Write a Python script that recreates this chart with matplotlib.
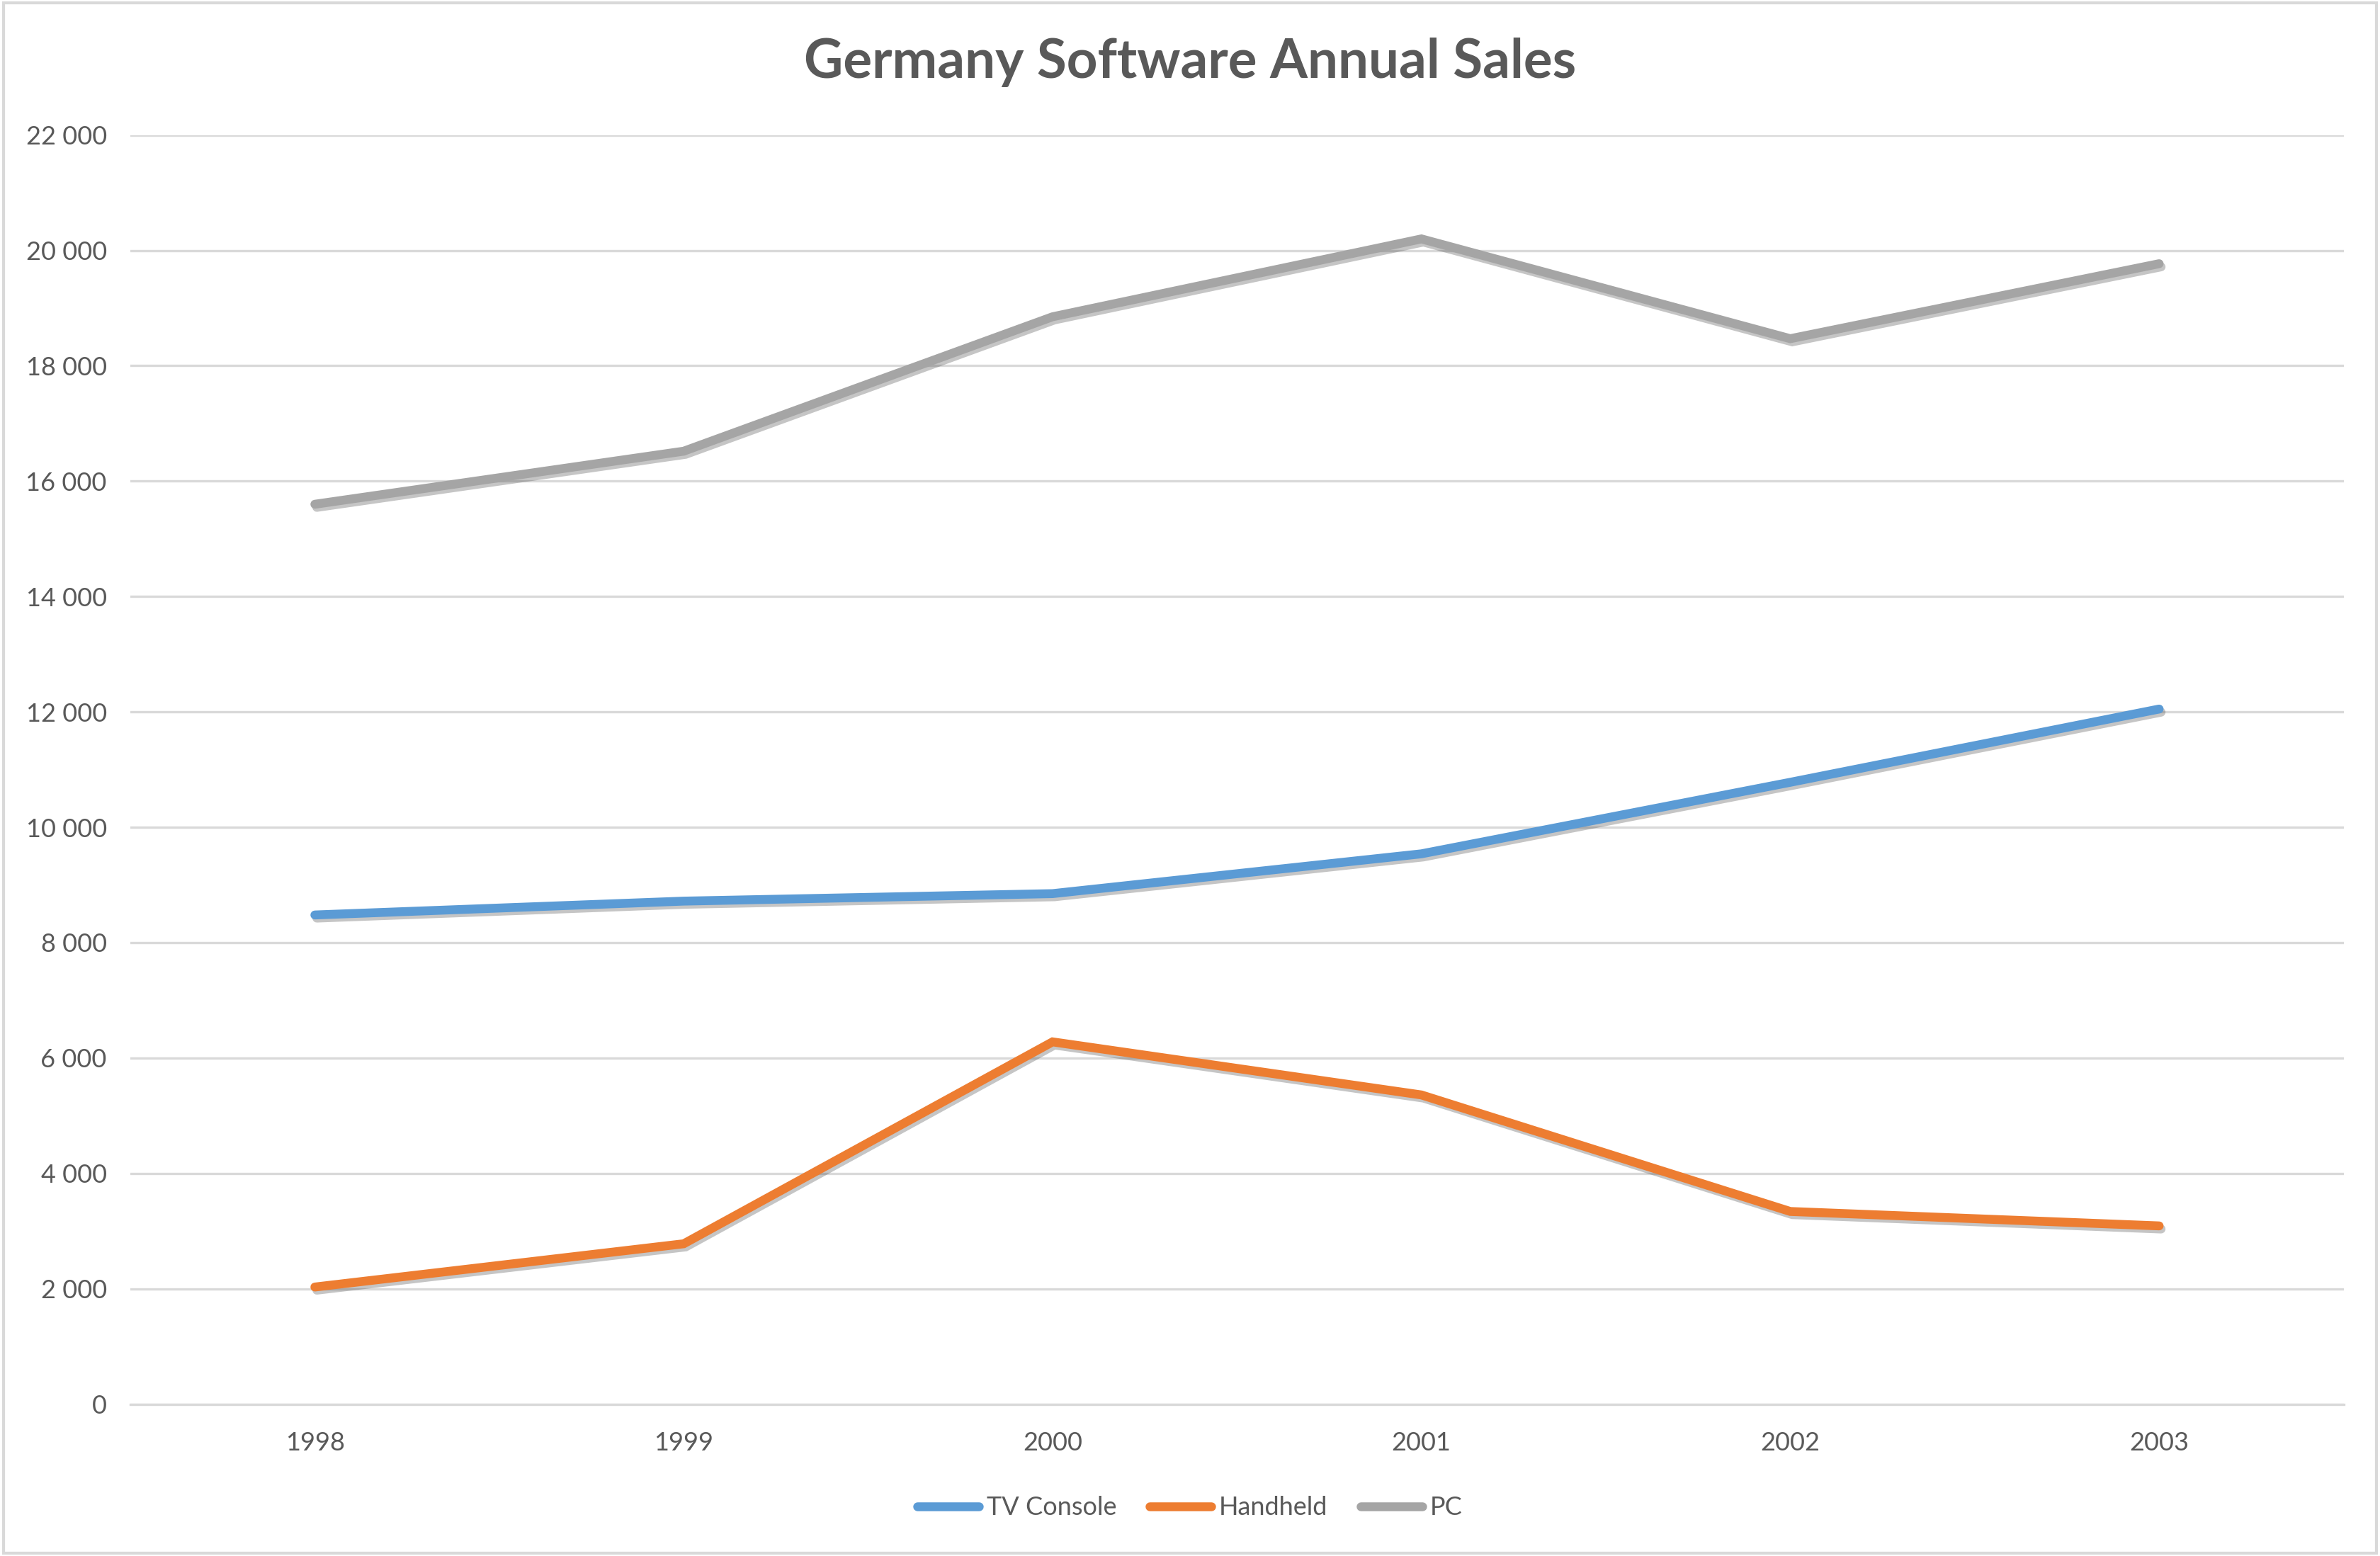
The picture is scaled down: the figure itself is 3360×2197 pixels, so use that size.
import matplotlib.pyplot as plt
import matplotlib.patheffects as pe
from matplotlib.ticker import FuncFormatter

years = ["1998", "1999", "2000", "2001", "2002", "2003"]
tv_console = [8480, 8720, 8850, 9540, 10780, 12050]
handheld = [2030, 2780, 6280, 5360, 3340, 3090]
pc = [15600, 16520, 18850, 20200, 18470, 19770]

series_names = ["TV Console", "Handheld", "PC"]
series_colors = ["#5B9BD5", "#ED7D31", "#A5A5A5"]
TEXT = "#595959"

plt.rcParams['font.family'] = ['Lato', 'DejaVu Sans']

fig = plt.figure(figsize=(16.8, 10.985), dpi=200)
ax = fig.add_axes([0.0548, 0.0976, 0.9299, 0.8156])

shadow = [pe.SimpleLineShadow(offset=(1.0, -1.6), shadow_color='#404040', alpha=0.3),
          pe.Normal()]
x = list(range(len(years)))
for vals, name, col in zip([tv_console, handheld, pc], series_names, series_colors):
    ax.plot(x, vals, color=col, lw=4.5, solid_capstyle='round',
            solid_joinstyle='miter', label=name, path_effects=shadow)

ax.set_xlim(-0.5, len(years) - 0.5)
ax.set_ylim(0, 22000)
ax.set_yticks(range(0, 22001, 2000))
ax.yaxis.set_major_formatter(FuncFormatter(lambda v, p: f"{int(v):,}".replace(",", " ")))
ax.set_xticks(x)
ax.set_xticklabels(years)
ax.grid(axis='y', color='#D9D9D9', lw=1.2)
ax.set_axisbelow(True)
for s in ['top', 'right', 'left']:
    ax.spines[s].set_visible(False)
ax.spines['bottom'].set_color('#D9D9D9')
ax.spines['bottom'].set_linewidth(1.2)
ax.tick_params(axis='both', length=0, colors=TEXT, labelsize=13)
ax.tick_params(axis='x', pad=14)
ax.tick_params(axis='y', pad=12)

fig.text(0.5, 0.96, "Germany Software Annual Sales", ha='center', va='center',
         fontsize=27.5, fontweight='bold', color=TEXT)

leg = fig.legend(loc='center', bbox_to_anchor=(0.5, 0.031), ncol=3, frameon=False,
                 fontsize=13, handlelength=2.4, handletextpad=0.3, columnspacing=1.3)
for t in leg.get_texts():
    t.set_color(TEXT)
for h in leg.legend_handles:
    h.set_path_effects([])

fig.patches.append(plt.Rectangle((0.0015, 0.002), 0.997, 0.996, transform=fig.transFigure,
                                 fill=False, edgecolor='#D9D9D9', lw=1.5))

fig.savefig("out.png", dpi=200, facecolor='white')
